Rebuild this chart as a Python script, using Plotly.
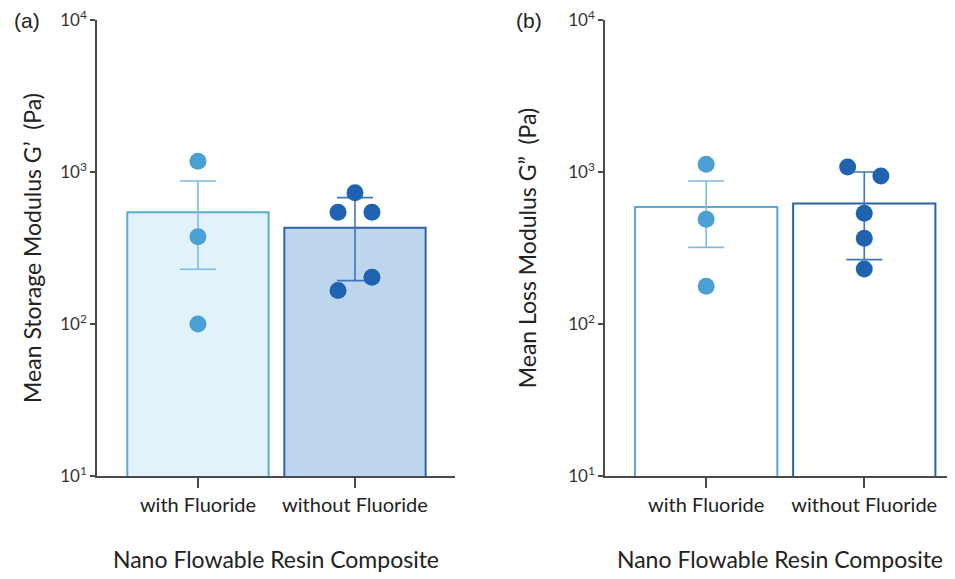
import plotly.graph_objects as go

categories = ["with Fluoride", "without Fluoride"]

# Panel (a): storage modulus G'
a_means = [543, 430]
a_err_plus = [330, 248]
a_err_minus = [314, 237]
a_pts_with = [1176, 375, 100]
a_pts_without = [731, 543, 543, 203, 166]

# Panel (b): loss modulus G''
b_means = [589, 621]
b_err_plus = [284, 379]
b_err_minus = [270, 356]
b_pts_with = [1124, 489, 177]
b_pts_without = [1079, 942, 536, 366, 230]

# dot horizontal spread (category units)
a_off_with = [0, 0, 0]
a_off_without = [0, -0.108, 0.108, 0.108, -0.108]
b_off_with = [0, 0, 0]
b_off_without = [-0.105, 0.105, 0, 0, 0]

yticks = [10, 100, 1000, 10000]
yticktext = ["10<sup>1</sup>", "10<sup>2</sup>", "10<sup>3</sup>", "10<sup>4</sup>"]

LIGHT_DOT = "#4aa0d2"
DARK_DOT = "#1f63b0"
LIGHT_EDGE = "#5aa9d6"
DARK_EDGE = "#2c63a8"
LIGHT_ERR = "#7fbbe0"
DARK_ERR = "#3d76bb"

fig = go.Figure()

def add_panel(means, ep, em, pw, pwo, offw, offwo, xa, ya, fills):
    fig.add_trace(go.Bar(
        x=[0, 1], y=means, width=0.9,
        marker=dict(color=fills, line=dict(color=[LIGHT_EDGE, DARK_EDGE], width=2)),
        xaxis=xa, yaxis=ya, showlegend=False))
    for i, col in enumerate([LIGHT_ERR, DARK_ERR]):
        fig.add_trace(go.Scatter(
            x=[i], y=[means[i]], mode="markers",
            marker=dict(size=1, color="rgba(0,0,0,0)"),
            error_y=dict(type="data", symmetric=False, array=[ep[i]], arrayminus=[em[i]],
                         color=col, thickness=1.6, width=18),
            xaxis=xa, yaxis=ya, showlegend=False))
    fig.add_trace(go.Scatter(
        x=[0 + o for o in offw], y=pw, mode="markers",
        marker=dict(size=17, color=LIGHT_DOT),
        xaxis=xa, yaxis=ya, showlegend=False))
    fig.add_trace(go.Scatter(
        x=[1 + o for o in offwo], y=pwo, mode="markers",
        marker=dict(size=17, color=DARK_DOT),
        xaxis=xa, yaxis=ya, showlegend=False))

add_panel(a_means, a_err_plus, a_err_minus, a_pts_with, a_pts_without,
          a_off_with, a_off_without, "x", "y", ["#e1f2fb", "#bdd6ee"])
add_panel(b_means, b_err_plus, b_err_minus, b_pts_with, b_pts_without,
          b_off_with, b_off_without, "x2", "y2", ["#ffffff", "#ffffff"])

font_family = "Lato, 'Noto Sans', sans-serif"
axis_color = "#4a4a4a"

xcommon = dict(
    tickvals=[0, 1], ticktext=categories, showline=True, linecolor=axis_color,
    linewidth=1.5, ticks="outside", ticklen=10, tickwidth=1.5, tickcolor=axis_color,
    showgrid=False, zeroline=False, tickfont=dict(size=20, color="#222", family=font_family),
    title=dict(text="Nano Flowable Resin Composite", font=dict(size=23, color="#222", family=font_family), standoff=37),
)
ycommon = dict(
    type="log", range=[1, 4], tickvals=yticks, ticktext=yticktext,
    showline=True, linecolor=axis_color, linewidth=1.5, ticks="outside", ticklen=5,
    tickwidth=1.5, tickcolor=axis_color, showgrid=False, zeroline=False,
    ticklabeloverflow="allow",
    tickfont=dict(size=17, color="#333", family=font_family),
)

W = 955
OFF = 8  # page offset of the figure inside the browser window

fig.update_layout(
    width=W, height=579,
    margin=dict(l=0, r=0, t=20 - OFF, b=103 + OFF),
    paper_bgcolor="white", plot_bgcolor="white",
    xaxis=dict(domain=[(97 - OFF)/W, (455 - OFF)/W], range=[-0.643, 1.637], anchor="y", **xcommon),
    xaxis2=dict(domain=[(605 - OFF)/W, (955 - OFF)/W], range=[-0.64, 1.574], anchor="y2", **xcommon),
    yaxis=dict(anchor="x", title=dict(text="Mean Storage Modulus G’  (Pa)",
               font=dict(size=23, color="#222", family=font_family), standoff=12), **ycommon),
    yaxis2=dict(anchor="x2", title=dict(text="Mean Loss Modulus G”  (Pa)",
                font=dict(size=23, color="#222", family=font_family), standoff=25), **ycommon),
    annotations=[
        dict(text="(a)", x=(12 - OFF)/W, y=1.0, xref="paper", yref="paper",
             xanchor="left", yanchor="middle", showarrow=False,
             font=dict(size=21, color="#222", family="Liberation Sans, Arial")),
        dict(text="(b)", x=(514 - OFF)/W, y=1.0, xref="paper", yref="paper",
             xanchor="left", yanchor="middle", showarrow=False,
             font=dict(size=21, color="#222", family="Liberation Sans, Arial")),
    ],
)

fig.write_html("out.html")
